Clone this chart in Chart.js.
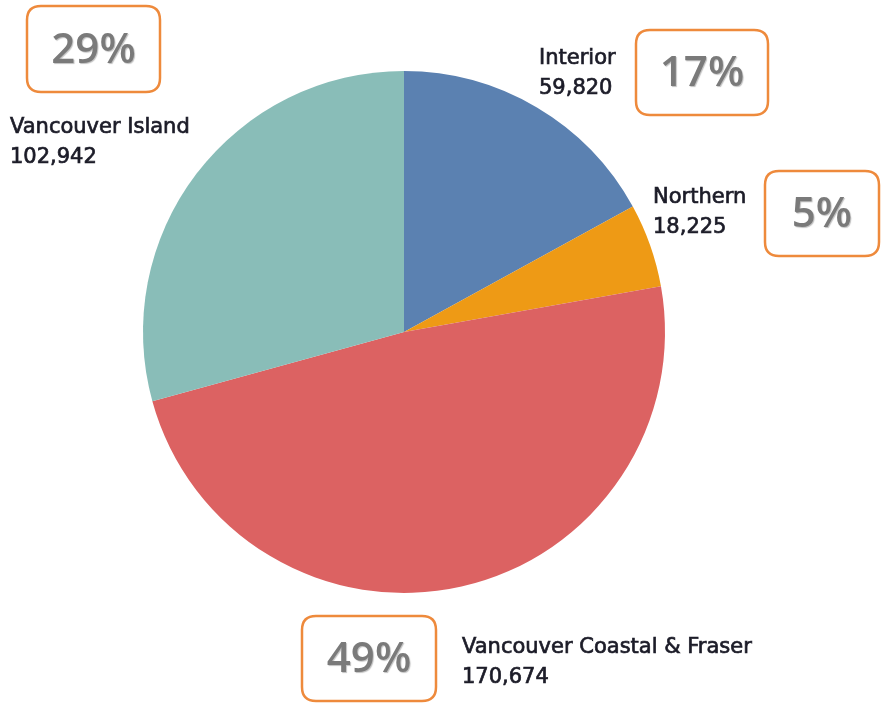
<!DOCTYPE html>
<html>
<head>
<meta charset="utf-8">
<script src="https://cdn.jsdelivr.net/npm/chart.js@4"></script>
<style>
  html, body { margin: 0; padding: 0; background: #fff; }
  canvas { display: block; }
</style>
</head>
<body>
<canvas id="pie" width="881" height="705"></canvas>
<script>
// health authority regions and counts, clockwise from 12 o'clock
const regions = ['Interior', 'Northern', 'Vancouver Coastal & Fraser', 'Vancouver Island'];
const counts = [59820, 18225, 170674, 102942];
const colors = ['#5b81b1', '#ee9a15', '#dc6262', '#89bdb8'];

// where the name/value text and the boxed percentage sit for each slice
const textPos = [
  { x: 539, y: 59 },
  { x: 653, y: 198 },
  { x: 462, y: 648 },
  { x: 10, y: 128 },
];
const boxPos = [
  { x: 636, y: 30, w: 132, h: 85 },
  { x: 765, y: 171, w: 114, h: 85 },
  { x: 302, y: 616, w: 134, h: 85 },
  { x: 27, y: 6, w: 133, h: 86 },
];

const fmt = (n) => n.toLocaleString('en-US');

const roundRect = (ctx, x, y, w, h, r) => {
  ctx.beginPath();
  ctx.moveTo(x + r, y);
  ctx.lineTo(x + w - r, y);
  ctx.quadraticCurveTo(x + w, y, x + w, y + r);
  ctx.lineTo(x + w, y + h - r);
  ctx.quadraticCurveTo(x + w, y + h, x + w - r, y + h);
  ctx.lineTo(x + r, y + h);
  ctx.quadraticCurveTo(x, y + h, x, y + h - r);
  ctx.lineTo(x, y + r);
  ctx.quadraticCurveTo(x, y, x + r, y);
  ctx.closePath();
};

const calloutPlugin = {
  id: 'callouts',
  afterDraw(chart) {
    const ctx = chart.ctx;
    const data = chart.data.datasets[0].data;
    const total = data.reduce((a, b) => a + b, 0);

    ctx.save();
    chart.data.labels.forEach((label, i) => {
      // name + count
      const t = textPos[i];
      ctx.fillStyle = '#1c1c28';
      ctx.strokeStyle = '#1c1c28';
      ctx.lineWidth = 0.7;
      ctx.font = '21px "DejaVu Sans", sans-serif';
      ctx.textAlign = 'left';
      ctx.textBaseline = 'middle';
      ctx.fillText(label, t.x, t.y);
      ctx.strokeText(label, t.x, t.y);
      ctx.fillText(fmt(data[i]), t.x, t.y + 30);
      ctx.strokeText(fmt(data[i]), t.x, t.y + 30);

      // boxed percentage
      const b = boxPos[i];
      ctx.lineWidth = 2.5;
      ctx.strokeStyle = '#ee8a3c';
      ctx.fillStyle = '#fff';
      roundRect(ctx, b.x, b.y, b.w, b.h, 14);
      ctx.fill();
      ctx.stroke();

      const pct = Math.round((data[i] / total) * 100) + '%';
      ctx.font = '600 42px "Open Sans", sans-serif';
      ctx.textAlign = 'center';
      ctx.shadowColor = 'rgba(0,0,0,0.25)';
      ctx.shadowOffsetX = 1;
      ctx.shadowOffsetY = 1;
      ctx.shadowBlur = 1;
      ctx.fillStyle = '#7a7a7a';
      ctx.fillText(pct, b.x + b.w / 2, b.y + b.h / 2 + 2);
      ctx.shadowColor = 'transparent';
    });
    ctx.restore();
  },
};

new Chart(document.getElementById('pie'), {
  type: 'pie',
  data: {
    labels: regions,
    datasets: [{
      data: counts,
      backgroundColor: colors,
      borderWidth: 0,
    }],
  },
  options: {
    responsive: false,
    animation: false,
    layout: { padding: { left: 143, right: 216, top: 71, bottom: 112 } },
    plugins: {
      legend: { display: false },
      tooltip: { enabled: false },
    },
  },
  plugins: [calloutPlugin],
});
</script>
</body>
</html>
